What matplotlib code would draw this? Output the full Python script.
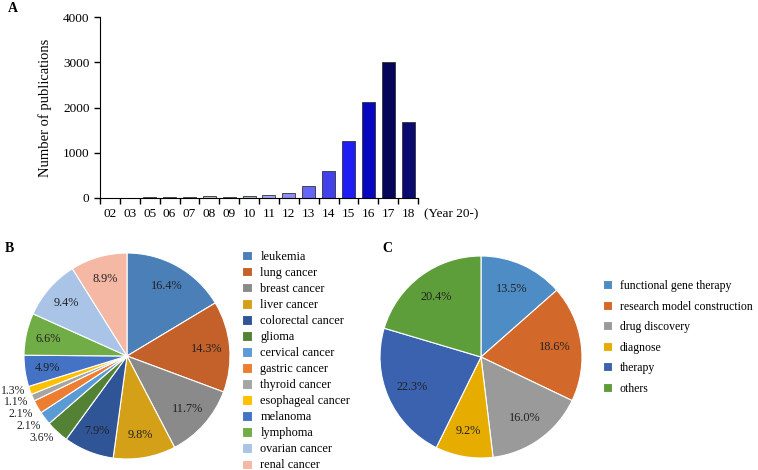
import matplotlib.pyplot as plt
import numpy as np

plt.rcParams['font.family'] = ['Liberation Serif', 'DejaVu Serif']

# panel A data
years = ['02', '03', '05', '06', '07', '08', '09', '10', '11', '12', '13', '14', '15', '16', '17', '18']
pubs = [5, 5, 20, 20, 20, 35, 30, 50, 75, 120, 275, 600, 1250, 2120, 3010, 1680]
bar_colors = ['#c8ccd8', '#c8ccd8', '#b8bece', '#b8bece', '#b8bece', '#b4bccc', '#b0b8cc', '#a8b4cc',
              '#a0a8f0', '#8c8cf4', '#6666f6', '#4242ea', '#1f1ff5', '#0707c0', '#05055a', '#0a0a70']

# panel B data
cancers = ['leukemia', 'lung cancer', 'breast cancer', 'liver cancer', 'colorectal cancer', 'glioma',
           'cervical cancer', 'gastric cancer', 'thyroid cancer', 'esophageal cancer', 'melanoma',
           'lymphoma', 'ovarian cancer', 'renal cancer']
cancer_pct = [16.4, 14.3, 11.7, 9.8, 7.9, 3.6, 2.1, 2.1, 1.1, 1.3, 4.9, 6.6, 9.4, 8.9]
cancer_colors = ['#4a7fb8', '#c4612a', '#8a8a8a', '#d4a017', '#2f5597', '#548235',
                 '#5b9bd5', '#ed7d31', '#a5a5a5', '#ffc000', '#4472c4', '#70ad47',
                 '#a9c4e6', '#f4b8a4']

# panel C data
uses = ['functional gene therapy', 'research model construction', 'drug discovery', 'diagnose',
        'therapy', 'others']
use_pct = [13.5, 18.6, 16.0, 9.2, 22.3, 20.4]
use_colors = ['#4e8cc6', '#d2692a', '#9a9a9a', '#e6ac00', '#3a62ae', '#5e9e3a']

W, H = 758, 470
fig = plt.figure(figsize=(W / 100, H / 100), dpi=100)

def px_axes(x0, y0, x1, y1):
    # pixel box (top-left origin) -> figure axes
    return fig.add_axes([x0 / W, 1 - y1 / H, (x1 - x0) / W, (y1 - y0) / H])

# ---- A: bar chart
ax = px_axes(100, 17, 418, 198)
x = np.arange(len(years))
ax.bar(x, pubs, width=0.65, color=bar_colors, edgecolor='#333333', linewidth=0.6)
ax.set_xlim(-0.5, len(years) - 0.5)
ax.set_ylim(0, 4000)
ax.set_yticks([0, 1000, 2000, 3000, 4000])
ax.set_xticks(x)
ax.set_xticklabels(years)
ax.set_xticks(np.arange(len(years) + 1) - 0.5, minor=True)
ax.tick_params(axis='x', which='major', length=0, labelsize=9.5, pad=7)
ax.tick_params(axis='x', which='minor', length=4, direction='out', width=1)
ax.tick_params(axis='y', length=4, direction='out', labelsize=9.5, width=1)
for s in ['top', 'right']:
    ax.spines[s].set_visible(False)
ax.set_ylabel('Number of publications', fontsize=10.5, labelpad=8)
ax.text(1.02, -0.09, '(Year 20-)', transform=ax.transAxes, fontsize=9.5, va='center', ha='left')
fig.text(8 / W, 1 - 9 / H, 'A', fontsize=10, fontweight='bold', va='center')

# ---- B: cancer pie
r = 103
axb = px_axes(127 - r, 356 - r, 127 + r, 356 + r)
small = [f'{v:.1f}%' if v < 4 else '' for v in cancer_pct]
wedges, texts, autotexts = axb.pie(
    cancer_pct, colors=cancer_colors, startangle=90, counterclock=False,
    labels=small, labeldistance=1.05,
    autopct=lambda p: f'{p:.1f}%' if p >= 4 else '', pctdistance=0.78,
    wedgeprops=dict(edgecolor='white', linewidth=0.8),
    textprops=dict(fontsize=8.8, color='#222222'))
# spread the outside labels a little so they don't collide
nudge = {5: -0.02, 6: -0.05, 7: -0.04, 8: -0.02, 9: 0.01}
for i, dy in nudge.items():
    tx, ty = texts[i].get_position()
    texts[i].set_position((tx, ty + dy))
    texts[i].set_fontsize(8.5)
axb.set_xlim(-1, 1)
axb.set_ylim(-1, 1)
fig.text(5 / W, 1 - 248 / H, 'B', fontsize=10, fontweight='bold', va='center')
fig.legend(wedges, cancers, loc='upper left', bbox_to_anchor=(242 / W, 1 - 251 / H),
           frameon=False, fontsize=8.8, labelspacing=0.33, handlelength=0.8, handleheight=0.8,
           handletextpad=0.7, borderpad=0, borderaxespad=0)

# ---- C: application pie
axc = px_axes(481 - r + 2, 357 - r + 2, 481 + r - 2, 357 + r - 2)
wedges_c, _, _ = axc.pie(
    use_pct, colors=use_colors, startangle=90, counterclock=False,
    autopct='%.1f%%', pctdistance=0.74,
    wedgeprops=dict(edgecolor='white', linewidth=0.8),
    textprops=dict(fontsize=8.8, color='#222222'))
axc.set_xlim(-1, 1)
axc.set_ylim(-1, 1)
fig.text(382 / W, 1 - 248 / H, 'C', fontsize=10, fontweight='bold', va='center')
fig.legend(wedges_c, uses, loc='upper left', bbox_to_anchor=(603 / W, 1 - 280 / H),
           frameon=False, fontsize=8.5, labelspacing=0.72, handlelength=0.8, handleheight=0.8,
           handletextpad=0.6, borderpad=0, borderaxespad=0)

fig.savefig('out.png', dpi=100)
